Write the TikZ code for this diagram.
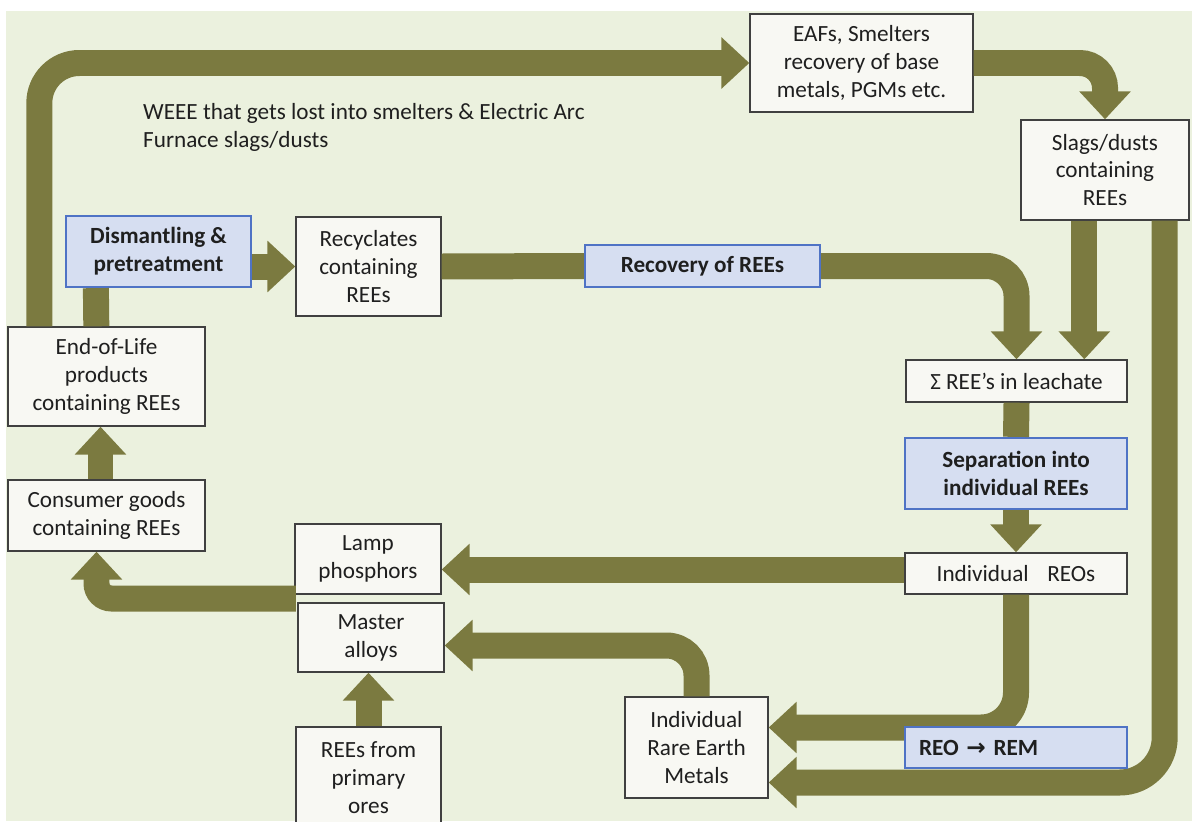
\documentclass[tikz,border=0pt]{standalone}
\usepackage{fontspec}
\setmainfont{Carlito}
\newfontfamily\arrowfont{DejaVu Sans}
\usetikzlibrary{calc, arrows.meta, positioning}

\definecolor{paper}{HTML}{EBF1DE}
\definecolor{flowcol}{HTML}{7B7A40}
\definecolor{boxfill}{HTML}{F8F8F3}
\definecolor{boxline}{HTML}{404040}
\definecolor{keyfill}{HTML}{D6DEF1}
\definecolor{keyline}{HTML}{4F73C5}
\definecolor{ink}{HTML}{1F1F1F}

\begin{document}
\begin{tikzpicture}[
    x=0.02cm, y=-0.02cm,
    box/.style={rectangle, draw=boxline, fill=boxfill, line width=0.8pt, inner sep=0pt, align=center, text=ink, font=\fontsize{13.2}{15.9}\selectfont},
    keybox/.style={box, draw=keyline, fill=keyfill, line width=1.3pt, font=\fontsize{13.2}{15.9}\selectfont\bfseries},
    flow/.style={draw=flowcol, line width=0.52cm, rounded corners=0.6cm, -{Triangle[width=1.0cm, length=0.56cm]}},
    band/.style={draw=flowcol, line width=0.52cm}
]
    \useasboundingbox (0, 0) rectangle (1192, 821);
    \clip (0, 0) rectangle (1192, 821);
    \fill [paper] (6, 11) rectangle (1192, 821);

    \node [box, minimum width=4.46cm, minimum height=1.96cm] (eaf) at (861.5, 63) {EAFs, Smelters\\recovery of base\\metals, PGMs etc.};
    \node [box, minimum width=3.36cm, minimum height=2.00cm] (slag) at (1105, 170) {Slags/dusts\\containing\\REEs};
    \node [keybox, minimum width=3.70cm, minimum height=1.42cm] (dism) at (158.5, 251.5) {Dismantling \&\\pretreatment};
    \node [box, minimum width=2.90cm, minimum height=1.98cm] (recy) at (368.5, 266.5) {Recyclates\\containing\\REEs};
    \node [keybox, minimum width=4.70cm, minimum height=0.84cm] (recov) at (702.5, 266) {Recovery of REEs};
    \node [box, minimum width=4.42cm, minimum height=0.84cm] (sum) at (1016.5, 381) {Σ REE’s in leachate};
    \node [keybox, minimum width=4.44cm, minimum height=1.42cm] (sep) at (1016, 473.5) {Separation into\\individual REEs};
    \node [box, minimum width=4.44cm, minimum height=0.82cm] (reo) at (1016, 573.5) {Individual\hspace{0.8em}REOs};
    \node [box, minimum width=3.94cm, minimum height=1.98cm] (eol) at (106.5, 376.5) {End-of-Life\\products\\containing REEs};
    \node [box, minimum width=3.94cm, minimum height=1.42cm] (cons) at (106.5, 515.5) {Consumer goods\\containing REEs};
    \node [box, minimum width=2.92cm, minimum height=1.40cm] (lamp) at (368, 559) {Lamp\\phosphors};
    \node [box, minimum width=2.92cm, minimum height=1.38cm] (mast) at (371, 637.5) {Master\\alloys};
    \node [box, minimum width=2.90cm, minimum height=2.02cm] (prim) at (368.5, 777.5) {REEs from\\primary\\ores};
    \node [box, minimum width=2.86cm, minimum height=2.02cm] (irem) at (696.5, 747.5) {Individual\\Rare Earth\\Metals};
    \node [anchor=west, align=left, text=ink, font=\fontsize{13.2}{15.9}\selectfont] (note) at (137, 127) {WEEE that gets lost into smelters \& Electric Arc\\Furnace slags/dusts};

    \coordinate (slagL) at ($(slag.south west)+(64, 0)$);
    \coordinate (slagR) at ($(slag.south east)+(-25, 0)$);
    \coordinate (lm) at ($(lamp.south west)!0.5!(mast.north west)$);

    \draw [flow, rounded corners=0.8cm] ($(eol.north west)+(32, 0)$) |- (eaf.west);
    \draw [flow, rounded corners=0.5cm] (eaf.east) -| (slag.north);
    \draw [band] ($(eol.north west)+(89, 0)$) -- ($(dism.south west)+(31, 0)$);
    \draw [flow] (dism.east |- recy.west) -- (recy.west);
    \draw [band] (recy.east) -- (recov.west);
    \draw [flow] (recov.east) -| (sum.north);
    \draw [flow] (slagL) -- (slagL |- sum.north);
    \draw [band] (sum.south) -- (sep.north);
    \draw [flow] (sep.south) -- (reo.north);
    \draw [flow] ([yshift=0.08cm]reo.west) -- ([yshift=0.08cm]reo.west -| lamp.east);
    \draw [flow, rounded corners=0.7cm] (reo.south) |- ($(irem.east)+(0, -20)$);
    \draw [flow, rounded corners=0.9cm] (slagR) |- ($(irem.east)+(0, 35)$);
    \draw [flow] (irem.north) |- ($(mast.east)+(0, 8)$);
    \draw [flow] (prim.north) -- (prim.north |- mast.south);
    \draw [flow, rounded corners=0.3cm] (lm) -| ($(cons.south)+(-10, 0)$);
    \draw [flow] ($(cons.north)+(-6, 0)$) -- ($(eol.south)+(-6, 0)$);

    % drawn last so it sits over the flow into the metals box
    \node [keybox, text width=3.88cm, inner xsep=0.28cm, minimum height=0.82cm, align=left] (rem) at (1016, 747.5) {REO {\arrowfont →} REM};
\end{tikzpicture}
\end{document}
